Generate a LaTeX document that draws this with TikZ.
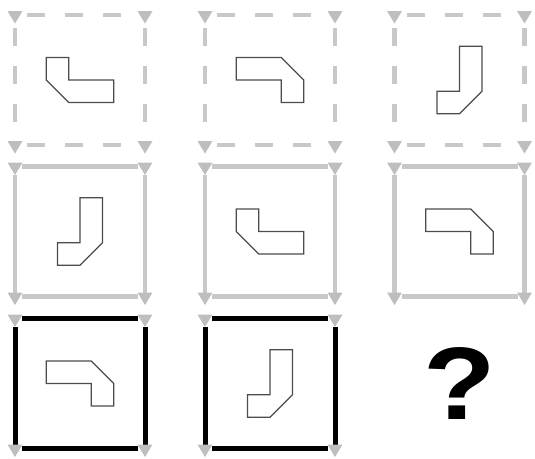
\documentclass[tikz,border=0pt]{standalone}
\usepackage{fontspec}
\newfontfamily\qfont{Liberation Sans}
\definecolor{sidegray}{RGB}{200,200,200}
\definecolor{cornergray}{RGB}{190,190,190}
\begin{document}
\begin{tikzpicture}[
  x=0.3mm, y=-0.3mm,
  grayside/.style={draw=sidegray, line width=1.25mm},
  dashside/.style={grayside, dash pattern=on 5.4mm off 6mm, dash phase=9.9mm},
  blackside/.style={draw=black, line width=1.5mm},
  corner/.style={fill=cornergray, draw=none},
  piece/.style={draw=black!70, line width=1.1pt, fill=white},
  qmark/.style={inner sep=0pt, xscale=1.15,
                font=\qfont\bfseries\fontsize{88}{88}\selectfont}
]
  \useasboundingbox (0,0) rectangle (535,459);
  % Box centres
  \foreach \x [count=\c] in {80,270,459.5} {
    \foreach \y [count=\r] in {80,231.5,383.5} {
      \coordinate (b\r\c) at (\x,\y);
    }
  }
  % Frames
  \foreach \b/\sty in {11/dashside,12/dashside,13/dashside,
                       21/grayside,22/grayside,23/grayside,
                       31/blackside,32/blackside} {
    \draw[\sty] ([shift={(-58,-65)}]b\b) -- ([shift={(58,-65)}]b\b);
    \draw[\sty] ([shift={(-58,65)}]b\b) -- ([shift={(58,65)}]b\b);
    \draw[\sty] ([shift={(-65,-57)}]b\b) -- ([shift={(-65,61)}]b\b);
    \draw[\sty] ([shift={(65,-57)}]b\b) -- ([shift={(65,61)}]b\b);
    % Corner tips
    \foreach \dx/\dy in {-65/-65,65/-65,-65/65,65/65} {
      \fill[corner] ([shift={(\dx-7.5,\dy-4)}]b\b) -- ([shift={(\dx+7.5,\dy-4)}]b\b)
        -- ([shift={(\dx,\dy+8.5)}]b\b) -- cycle;
    }
  }
  % Pieces
  \foreach \b/\a in {11/0,12/180,13/90,21/90,22/0,23/180,31/180,32/90} {
    \draw[piece, shift={(b\b)}, rotate=\a, scale=22.5]
      (-1.5,-1) -- (-0.5,-1) -- (-0.5,0) -- (1.5,0) -- (1.5,1)
      -- (-0.5,1) -- (-1.5,0) -- cycle;
  }
  % Missing cell
  \node[qmark] (q) at (b33) {?};
\end{tikzpicture}
\end{document}
